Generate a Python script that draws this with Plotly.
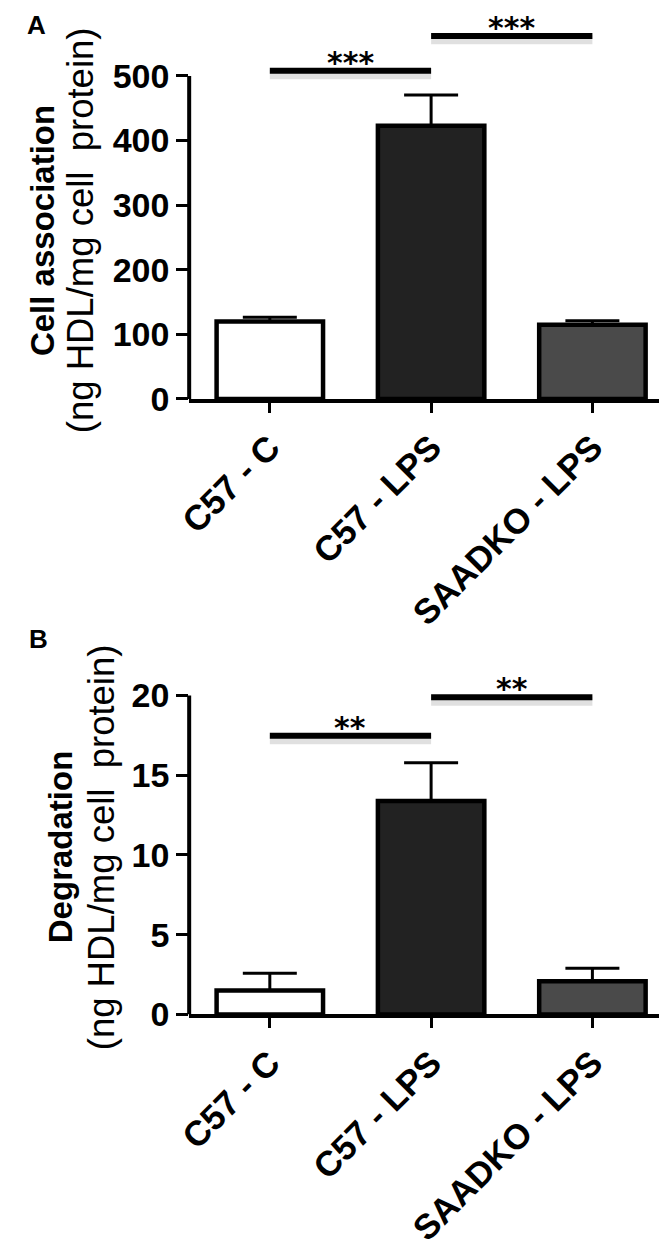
import plotly.graph_objects as go

# ---- data -------------------------------------------------------------
categories = ["C57 - C", "C57 - LPS", "SAADKO - LPS"]
bar_colors = ["#ffffff", "#222222", "#4a4a4a"]

assoc_mean = [120, 423, 115]
assoc_sem = [6.5, 47.5, 6]
assoc_ticks = [0, 100, 200, 300, 400, 500]
assoc_sig_pairs = [(0, 1), (1, 2)]
assoc_sig_y = [508, 562]
assoc_sig_text = ["***", "***"]

degr_mean = [1.51, 13.38, 2.08]
degr_sem = [1.08, 2.40, 0.82]
degr_ticks = [0, 5, 10, 15, 20]
degr_sig_pairs = [(0, 1), (1, 2)]
degr_sig_y = [17.47, 19.88]
degr_sig_text = ["**", "**"]

# ---- layout (pixels) --------------------------------------------------
W, H = 667, 1252
PLOT_LEFT, PLOT_RIGHT = 170, 665
FONT = "Liberation Sans, Arial, sans-serif"
STAR_FONT = "DejaVu Sans, Liberation Sans, sans-serif"

panels = [
    dict(letter="A", mean=assoc_mean, sem=assoc_sem, ticks=assoc_ticks,
         pairs=assoc_sig_pairs, sig_y=assoc_sig_y, sig_text=assoc_sig_text,
         bottom_px=397, top_px=0, ppu=0.656, letter_px=(14, 17),
         title1="Cell association", title_px=(20, 59, 226)),
    dict(letter="B", mean=degr_mean, sem=degr_sem, ticks=degr_ticks,
         pairs=degr_sig_pairs, sig_y=degr_sig_y, sig_text=degr_sig_text,
         bottom_px=1022, top_px=650, ppu=16.2, letter_px=(16, 641),
         title1="Degradation", title_px=(38, 80, 852)),
]


def px_y(p):
    return 1 - p / H


fig = go.Figure()
layout = {}
annotations = []
shapes = []
xdom = [PLOT_LEFT / W, PLOT_RIGHT / W]

for k, p in enumerate(panels):
    sfx = "" if k == 0 else str(k + 1)
    xr, yr = "x" + sfx, "y" + sfx
    ppu = p["ppu"]
    top_val = (p["bottom_px"] - p["top_px"]) / ppu
    ydom = [px_y(p["bottom_px"]), px_y(p["top_px"])]

    fig.add_trace(go.Bar(
        x=categories, y=p["mean"], width=0.66,
        marker=dict(color=bar_colors, line=dict(color="black", width=4.5)),
        error_y=dict(type="data", array=p["sem"], arrayminus=[0] * len(p["sem"]),
                     symmetric=False, color="black", thickness=3, width=27),
        xaxis=xr, yaxis=yr, showlegend=False,
    ))

    shadow = 4 / ppu
    for (i, j), h, t in zip(p["pairs"], p["sig_y"], p["sig_text"]):
        fig.add_trace(go.Scatter(
            x=[categories[i], categories[j]], y=[h - shadow, h - shadow],
            mode="lines", line=dict(color="rgba(0,0,0,0.12)", width=9),
            xaxis=xr, yaxis=yr, showlegend=False, hoverinfo="skip",
        ))
        fig.add_trace(go.Scatter(
            x=[categories[i], categories[j]], y=[h, h],
            mode="lines", line=dict(color="black", width=6),
            xaxis=xr, yaxis=yr, showlegend=False, hoverinfo="skip",
        ))
        annotations.append(dict(
            x=(i + j) / 2, y=h, xref=xr, yref=yr, text=t, showarrow=False,
            yanchor="bottom", yshift=-10, borderpad=0,
            font=dict(family=STAR_FONT, size=30, color="black", weight="bold"),
        ))

    # y axis line stops at the top tick
    shapes.append(dict(
        type="line", xref=xr + " domain", yref=yr, x0=0, x1=0,
        y0=0, y1=p["ticks"][-1], line=dict(color="black", width=4),
    ))

    layout["xaxis" + sfx] = dict(
        domain=xdom, range=[-0.5, 2.5], anchor=yr, showline=True,
        linecolor="black", linewidth=4, ticks="outside", ticklen=10,
        tickwidth=3, tickcolor="black", tickangle=-45, showgrid=False,
        zeroline=False, tickfont=dict(family=FONT, size=35, color="black", weight="bold"),
    )
    layout["yaxis" + sfx] = dict(
        domain=ydom, range=[0, top_val], anchor=xr,
        tickvals=p["ticks"], ticks="outside", ticklen=12, tickwidth=3,
        tickcolor="black", showline=False, showgrid=False, zeroline=False,
        tickfont=dict(family=FONT, size=34, color="black", weight="bold"),
    )

    tx1, tx2, ty = p["title_px"]
    annotations.append(dict(
        x=tx1 / W, y=px_y(ty), xref="paper", yref="paper", text=p["title1"],
        textangle=-90, showarrow=False, xanchor="center", yanchor="middle",
        font=dict(family=FONT, size=33, color="black", weight="bold"),
    ))
    annotations.append(dict(
        x=tx2 / W, y=px_y(ty), xref="paper", yref="paper",
        text="(ng HDL/mg cell  protein)", textangle=-90, showarrow=False,
        xanchor="center", yanchor="middle",
        font=dict(family=FONT, size=36.5, color="black"),
    ))
    lx, ly = p["letter_px"]
    annotations.append(dict(
        x=lx / W, y=px_y(ly), xref="paper", yref="paper", text=p["letter"],
        showarrow=False, xanchor="center", yanchor="middle",
        font=dict(family=FONT, size=26, color="black", weight="bold"),
    ))

fig.update_layout(
    width=W, height=H,
    margin=dict(l=0, r=0, t=0, b=0),
    paper_bgcolor="white", plot_bgcolor="white",
    annotations=annotations, shapes=shapes,
    **layout,
)

fig.write_html("out.html")
